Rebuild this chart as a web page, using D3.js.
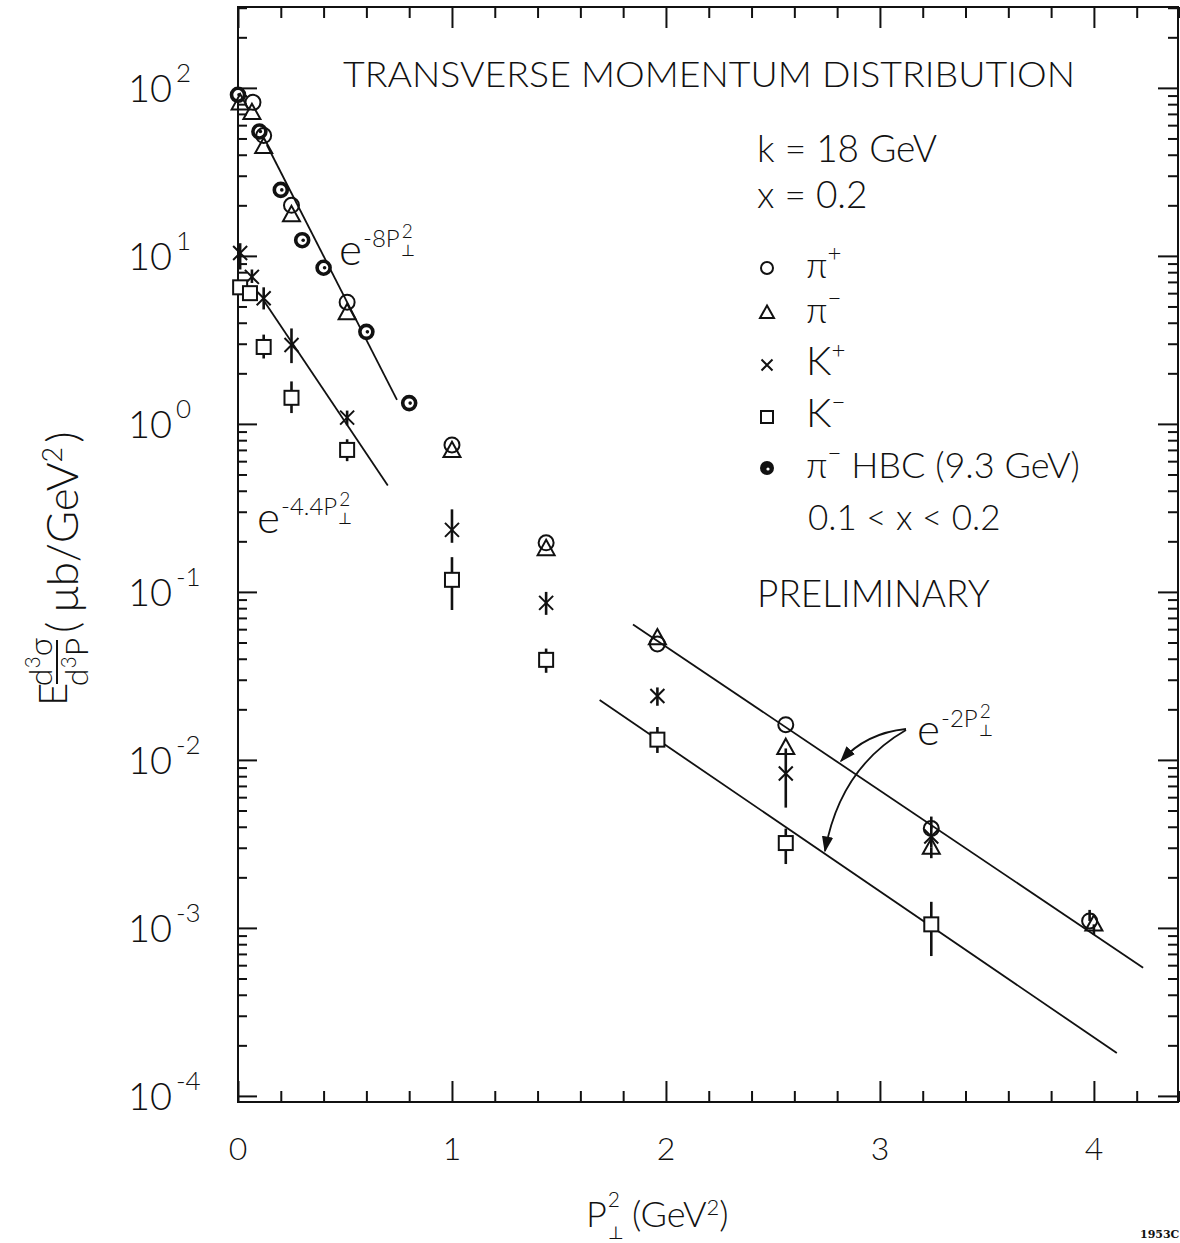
<!DOCTYPE html>
<html>
<head>
<meta charset="utf-8">
<script src="https://cdn.jsdelivr.net/npm/d3@7"></script>
<style>
  body { margin: 0; background: #fff; }
  svg { font-family: Lato, "DejaVu Sans", sans-serif; font-weight: 300; fill: #111; }
  .frame { fill: none; stroke: #111; stroke-width: 2; }
  .axis line { stroke: #111; stroke-width: 2; }
  .axis path { display: none; }
  .fit { fill: none; stroke: #111; stroke-width: 1.8; }
  .mk { fill: none; stroke: #111; stroke-width: 2; }
  .err { stroke: #111; stroke-width: 2.6; }
</style>
</head>
<body>
<svg id="chart" width="1180" height="1243"></svg>
<script>
// ---- data ----
var piPlusX = [0.07, 0.12, 0.25, 0.51, 1.0, 1.44, 1.96, 2.56, 3.24, 3.98];
var piPlusY = [82, 52, 20, 5.3, 0.75, 0.196, 0.049, 0.0162, 0.0039, 0.0011];
var piPlusLo = [82, 52, 20, 5.3, 0.75, 0.196, 0.049, 0.0162, 0.0039, 0.0011];
var piPlusHi = [82, 52, 20, 5.3, 0.75, 0.196, 0.049, 0.0162, 0.0046, 0.00128];

var piMinusX = [0.01, 0.065, 0.12, 0.25, 0.51, 1.0, 1.44, 1.96, 2.56, 3.24, 4.0];
var piMinusY = [81, 71, 44.5, 17.5, 4.57, 0.69, 0.18, 0.053, 0.0118, 0.0030, 0.00105];
var piMinusLo = [81, 71, 44.5, 17.5, 4.57, 0.69, 0.18, 0.053, 0.0118, 0.0026, 0.00091];
var piMinusHi = [81, 71, 44.5, 17.5, 4.57, 0.69, 0.18, 0.053, 0.0118, 0.0030, 0.00105];

var kPlusX = [0.01, 0.065, 0.12, 0.25, 0.51, 1.0, 1.44, 1.96, 2.56, 3.24];
var kPlusY = [10.4, 7.5, 5.6, 2.95, 1.09, 0.234, 0.086, 0.024, 0.0083, 0.0035];
var kPlusLo = [8.3, 6.9, 4.8, 2.3, 0.98, 0.196, 0.073, 0.021, 0.0052, 0.0030];
var kPlusHi = [11.9, 8.3, 6.5, 3.7, 1.2, 0.31, 0.1, 0.027, 0.0117, 0.0040];

var kMinusX = [0.01, 0.056, 0.12, 0.25, 0.51, 1.0, 1.44, 1.96, 2.56, 3.24];
var kMinusY = [6.5, 6.0, 2.87, 1.43, 0.70, 0.118, 0.0394, 0.0132, 0.0032, 0.00105];
var kMinusLo = [6.5, 6.0, 2.45, 1.16, 0.6, 0.078, 0.033, 0.011, 0.0024, 0.00068];
var kMinusHi = [6.5, 6.0, 3.4, 1.79, 0.81, 0.161, 0.046, 0.0157, 0.0039, 0.00143];

var hbcX = [0.0, 0.1, 0.2, 0.3, 0.4, 0.6, 0.8];
var hbcY = [91, 55, 24.7, 12.4, 8.5, 3.53, 1.33];

// fitted lines, end points as drawn
var fit8X = [0.135, 0.743], fit8Y = [45.7, 1.39];
var fit44X = [0.117, 0.70], fit44Y = [5.5, 0.43];
var fit2aX = [1.846, 4.23], fit2aY = [0.064, 0.00058];
var fit2bX = [1.69, 4.107], fit2bY = [0.0227, 0.00018];

var xMajor = [0, 1, 2, 3, 4];
var yExp = [2, 1, 0, -1, -2, -3, -4];
var legendNames = ["+", "\u2212", "+", "\u2212"];

// ---- scales ----
var svg = d3.select("#chart");
var x = d3.scaleLinear().domain([0, 4.393]).range([238, 1178]);
var y = d3.scaleLog().domain([9.2e-5, 303]).range([1102, 7]);

var xMinor = d3.range(1, 23).map(function(i){ return i * 0.2; })
    .filter(function(v){ return Math.abs(v - Math.round(v)) > 0.01; });
var yMajor = yExp.map(function(e){ return Math.pow(10, e); });
var yMinor = [];
for (var k = -5; k <= 2; k++) {
    for (var m = 2; m <= 9; m++) {
        var v = m * Math.pow(10, k);
        if (v > 9.2e-5 && v < 303) yMinor.push(v);
    }
}

// ---- axes (ticks point inward) ----
function ticks(axisFn, vals, size, tr) {
    svg.append("g").attr("class", "axis").attr("transform", tr)
        .call(axisFn.tickValues(vals).tickSize(size).tickSizeOuter(0).tickFormat(""));
}
ticks(d3.axisLeft(y), yMajor, -19, "translate(238,0)");
ticks(d3.axisLeft(y), yMinor, -9, "translate(238,0)");
ticks(d3.axisRight(y), yMajor, -20, "translate(1178,0)");
ticks(d3.axisRight(y), yMinor, -10, "translate(1178,0)");
ticks(d3.axisBottom(x), xMajor, -21, "translate(0,1102)");
ticks(d3.axisBottom(x), xMinor, -11, "translate(0,1102)");
ticks(d3.axisTop(x), xMajor, -21, "translate(0,7)");
ticks(d3.axisTop(x), xMinor, -11, "translate(0,7)");

svg.append("rect").attr("class", "frame")
    .attr("x", 238).attr("y", 7).attr("width", 940).attr("height", 1095);

// tick labels
xMajor.forEach(function(v){
    svg.append("text").attr("x", x(v)).attr("y", 1160)
        .style("text-anchor", "middle").style("font-size", "32px").text(v);
});
yExp.forEach(function(e){
    var py = y(Math.pow(10, e));
    svg.append("text").attr("x", 172).attr("y", py + 14)
        .style("text-anchor", "end").style("font-size", "38px").text("10");
    svg.append("text").attr("x", 176).attr("y", py - 6)
        .style("font-size", "26px").text(e < 0 ? "-" + (-e) : e);
});

// x title
var pT = svg.append("text").attr("x", 586).attr("y", 1227).style("font-size", "36px").text("P");
var pw = pT.node().getComputedTextLength();
svg.append("text").attr("x", 587 + pw).attr("y", 1207).style("font-size", "21px").text("2");
svg.append("text").attr("x", 587 + pw).attr("y", 1239).style("font-size", "18px")
    .style("font-family", "DejaVu Sans").text("⊥");
var xt2 = svg.append("text").attr("x", 632).attr("y", 1227).style("font-size", "36px");
xt2.append("tspan").text("(GeV");
xt2.append("tspan").attr("dy", -12).style("font-size", "22px").text("2");
xt2.append("tspan").attr("dy", 12).text(")");

// y title, rotated: local x = -screenY, local y = screenX
var yl = svg.append("g").attr("transform", "rotate(-90)");
yl.append("text").attr("x", -706).attr("y", 67).style("font-size", "40px").text("E");
var num = yl.append("text").attr("x", -662).attr("y", 52).style("text-anchor", "middle").style("font-size", "32px");
num.append("tspan").text("d");
num.append("tspan").attr("dy", -12).style("font-size", "21px").text("3");
num.append("tspan").attr("dy", 12).text("σ");
var den = yl.append("text").attr("x", -662).attr("y", 88).style("text-anchor", "middle").style("font-size", "32px");
den.append("tspan").text("d");
den.append("tspan").attr("dy", -12).style("font-size", "21px").text("3");
den.append("tspan").attr("dy", 12).text("P");
yl.append("line").attr("x1", -684).attr("x2", -640).attr("y1", 57).attr("y2", 57)
    .style("stroke", "#111").style("stroke-width", 2);
var unit = yl.append("text").attr("x", -633).attr("y", 78).style("font-size", "44px");
unit.append("tspan").text("(");
unit.append("tspan").attr("dx", 10).text("μb/GeV");
unit.append("tspan").attr("dy", -16).style("font-size", "27px").text("2");
unit.append("tspan").attr("dy", 16).attr("dx", 4).text(")");

// ---- fit lines ----
var line = d3.line().x(function(d){ return x(d[0]); }).y(function(d){ return y(d[1]); });
[[fit8X, fit8Y], [fit44X, fit44Y], [fit2aX, fit2aY], [fit2bX, fit2bY]].forEach(function(f){
    svg.append("path").attr("class", "fit").attr("d", line(d3.zip(f[0], f[1])));
});

// ---- markers ----
function circle(g, cx, cy, r) {
    g.append("circle").attr("class", "mk").attr("cx", cx).attr("cy", cy).attr("r", r);
}
function triangle(g, cx, cy, s) {
    var h = s * 0.9;
    g.append("path").attr("class", "mk")
        .attr("d", "M" + cx + "," + (cy - h * 0.6) + "L" + (cx + s / 2) + "," + (cy + h * 0.4) +
            "L" + (cx - s / 2) + "," + (cy + h * 0.4) + "Z");
}
function square(g, cx, cy, s) {
    g.append("rect").attr("class", "mk").attr("x", cx - s / 2).attr("y", cy - s / 2)
        .attr("width", s).attr("height", s);
}
function cross(g, cx, cy, s) {
    g.append("path").attr("class", "mk")
        .attr("d", "M" + (cx - s) + "," + (cy - s) + "L" + (cx + s) + "," + (cy + s) +
            "M" + (cx + s) + "," + (cy - s) + "L" + (cx - s) + "," + (cy + s));
}
function hbc(g, cx, cy, r) {
    g.append("circle").attr("cx", cx).attr("cy", cy).attr("r", r)
        .style("fill", "#fff").style("stroke", "#111").style("stroke-width", 3.6);
    g.append("circle").attr("cx", cx + 1).attr("cy", cy).attr("r", 1.8).style("fill", "#111");
}
function errs(g, xs, lo, hi) {
    xs.forEach(function(v, i){
        if (hi[i] > lo[i]) {
            g.append("line").attr("class", "err").attr("x1", x(v)).attr("x2", x(v))
                .attr("y1", y(hi[i])).attr("y2", y(lo[i]));
        }
    });
}

var pts = svg.append("g");
errs(pts, kPlusX, kPlusLo, kPlusHi);
errs(pts, kMinusX, kMinusLo, kMinusHi);
errs(pts, piPlusX, piPlusLo, piPlusHi);
errs(pts, piMinusX, piMinusLo, piMinusHi);

hbcX.forEach(function(v, i){ hbc(pts, x(v), y(hbcY[i]), 6.5); });
piPlusX.forEach(function(v, i){ circle(pts, x(v), y(piPlusY[i]), 7.5); });
piMinusX.forEach(function(v, i){ triangle(pts, x(v), y(piMinusY[i]), 17); });
kPlusX.forEach(function(v, i){ cross(pts, x(v), y(kPlusY[i]), 7); });
kMinusX.forEach(function(v, i){
    pts.append("rect").attr("x", x(v) - 7).attr("y", y(kMinusY[i]) - 7)
        .attr("width", 14).attr("height", 14).style("fill", "#fff");
    square(pts, x(v), y(kMinusY[i]), 14);
});

// ---- exponent labels on the fits ----
function expLabel(x0, base, coef) {
    svg.append("text").attr("x", x0).attr("y", base).style("font-size", "44px").text("e");
    var sup = svg.append("text").attr("x", x0 + 24).attr("y", base - 18)
        .style("font-size", "24px").text("-" + coef + "P");
    var w = sup.node().getComputedTextLength();
    svg.append("text").attr("x", x0 + 26 + w).attr("y", base - 27).style("font-size", "19px").text("2");
    svg.append("text").attr("x", x0 + 25 + w).attr("y", base - 9).style("font-size", "16px")
        .style("font-family", "DejaVu Sans").text("⊥");
}
expLabel(339, 265, "8");
expLabel(257, 533, "4.4");
expLabel(917, 745, "2");

// arrows from the e^-2 label
svg.append("defs").append("marker").attr("id", "ah")
    .attr("viewBox", "0 0 10 10").attr("refX", 9).attr("refY", 5)
    .attr("markerWidth", 9).attr("markerHeight", 9).attr("orient", "auto")
    .append("path").attr("d", "M0,1.5L10,5L0,8.5Z").style("fill", "#111");
svg.append("path").attr("class", "fit").attr("marker-end", "url(#ah)")
    .attr("d", "M906,729Q866,733,841,761");
svg.append("path").attr("class", "fit").attr("marker-end", "url(#ah)")
    .attr("d", "M906,730Q840,768,825,851");

// ---- title and legend ----
svg.append("text").attr("x", 343).attr("y", 87).attr("textLength", 732)
    .attr("lengthAdjust", "spacingAndGlyphs")
    .style("font-size", "36px").text("TRANSVERSE MOMENTUM DISTRIBUTION");
svg.append("text").attr("x", 757).attr("y", 162).style("font-size", "37px").text("k = 18  GeV");
svg.append("text").attr("x", 757).attr("y", 208).style("font-size", "37px").text("x = 0.2");

var leg = svg.append("g");
var legY = [268, 313, 365, 417, 468];
circle(leg, 767, legY[0], 6);
triangle(leg, 767, legY[1], 14);
cross(leg, 767, legY[2], 5.5);
square(leg, 767, legY[3], 12);
leg.append("circle").attr("cx", 767).attr("cy", legY[4]).attr("r", 7).style("fill", "#111");
leg.append("circle").attr("cx", 768).attr("cy", legY[4] + 1).attr("r", 1.6).style("fill", "#fff");

function legText(py, sym, sign, rest) {
    var t = leg.append("text").attr("x", 806).attr("y", py + 10).style("font-size", sym === "π" ? "36px" : "40px");
    t.append("tspan").text(sym);
    t.append("tspan").attr("dy", -17).style("font-size", "24px").text(sign);
    if (rest) t.append("tspan").attr("dy", 17).style("font-size", "36px").text(rest);
}
legText(legY[0], "π", legendNames[0]);
legText(legY[1], "π", legendNames[1]);
legText(legY[2], "K", legendNames[2]);
legText(legY[3], "K", legendNames[3]);
legText(legY[4], "π", "\u2212", "  HBC  (9.3 GeV)");
leg.append("text").attr("x", 808).attr("y", 530).style("font-size", "35px").text("0.1 < x < 0.2");
svg.append("text").attr("x", 757).attr("y", 607).style("font-size", "37px").text("PRELIMINARY");

svg.append("text").attr("x", 1140).attr("y", 1238).style("font-size", "11px")
    .style("font-family", "DejaVu Serif").style("font-weight", 700).text("1953C");
</script>
</body>
</html>
